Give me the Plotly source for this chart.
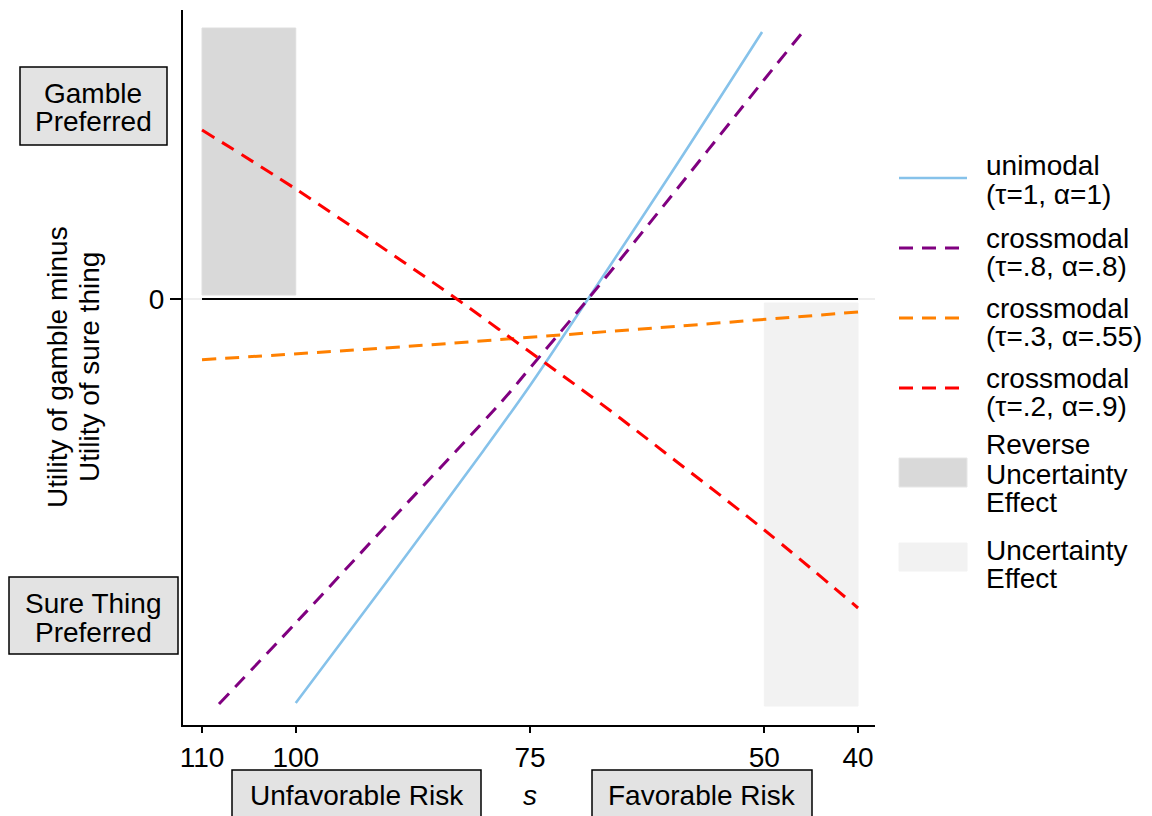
import plotly.graph_objects as go

# ---------------- data ----------------
s_ticks = [110, 100, 75, 50, 40]

s_unimodal = [100, 90, 80, 75, 70, 60, 50.24]
u_unimodal = [-4.04, -2.79, -1.52, -0.865, -0.167, 1.25, 2.67]

s_cross_8 = [108.19, 100, 90, 77.88, 75, 68.81, 60, 50, 45.55]
u_cross_8 = [-4.05, -3.24, -2.23, -1.01, -0.69, 0.0, 1.02, 2.195, 2.71]

s_cross_3 = [110, 90.47, 75, 58.99, 40]
u_cross_3 = [-0.607, -0.49, -0.383, -0.27, -0.13]

s_cross_2 = [110, 100, 90, 82.82, 75, 67.53, 60, 50, 40]
u_cross_2 = [1.69, 1.10, 0.465, 0.0, -0.53, -1.04, -1.58, -2.31, -3.09]

s_zero = [110, 40]
u_zero = [0, 0]

reverse_region_s = [110, 100]
reverse_region_u = [0.04, 2.71]
uncertainty_region_s = [50, 40]
uncertainty_region_u = [-4.07, -0.04]

legend_labels = [
    ["unimodal", "(τ=1, α=1)"],
    ["crossmodal", "(τ=.8, α=.8)"],
    ["crossmodal", "(τ=.3, α=.55)"],
    ["crossmodal", "(τ=.2, α=.9)"],
    ["Reverse", "Uncertainty", "Effect"],
    ["Uncertainty", "Effect"],
]

# ---------------- styling ----------------
FONT = "Liberation Sans, Arial, Helvetica, sans-serif"
FS = 28
C_BLUE = "#86c2ea"
C_PURPLE = "#800080"
C_ORANGE = "#ff8000"
C_RED = "#ff0000"
C_REV = "#d9d9d9"
C_UNC = "#f2f2f2"
DASH = "14px,9px"

W, H = 1152, 816
OFF = 8  # page body margin of the html page
# plot area in screen pixels
PX0, PX1, PY0, PY1 = 183, 875, 10, 725
PW, PH = PX1 - PX0, PY1 - PY0
L, T = PX0 - OFF, PY0 - OFF
R, B = W - (PX1 - OFF), H - (PY1 - OFF)


def px_x(px):
    return (px - PX0) / PW


def px_y(py):
    return (PY1 - py) / PH


def rect_xy(xs, ys):
    return ([xs[0], xs[1], xs[1], xs[0], xs[0]],
            [ys[0], ys[0], ys[1], ys[1], ys[0]])


fig = go.Figure()

rx, ry = rect_xy(reverse_region_s, reverse_region_u)
fig.add_trace(go.Scatter(x=rx, y=ry, fill="toself", fillcolor=C_REV, mode="lines",
                         line=dict(color="#dedede", width=1), name="Reverse Uncertainty Effect",
                         showlegend=False, hoverinfo="skip"))
ux, uy = rect_xy(uncertainty_region_s, uncertainty_region_u)
fig.add_trace(go.Scatter(x=ux, y=uy, fill="toself", fillcolor=C_UNC, mode="lines",
                         line=dict(color="#f2f2f2", width=1), name="Uncertainty Effect",
                         showlegend=False, hoverinfo="skip"))

fig.add_trace(go.Scatter(x=s_zero, y=u_zero, mode="lines",
                         line=dict(color="black", width=2.2), showlegend=False, hoverinfo="skip"))

series = [
    (s_unimodal, u_unimodal, C_BLUE, "solid", 2.6),
    (s_cross_8, u_cross_8, C_PURPLE, DASH, 3),
    (s_cross_3, u_cross_3, C_ORANGE, DASH, 3),
    (s_cross_2, u_cross_2, C_RED, DASH, 3),
]
for (xs, ys, col, dash, w), lab in zip(series, legend_labels):
    fig.add_trace(go.Scatter(x=xs, y=ys, mode="lines", line=dict(color=col, dash=dash, width=w),
                             line_shape="spline", name=" ".join(lab), showlegend=False))

shapes = []
annotations = []


def text(x_px, y_px, s, xanchor="center", italic=False, angle=0):
    annotations.append(dict(
        x=px_x(x_px), y=px_y(y_px), xref="paper", yref="paper", text=s, showarrow=False,
        xanchor=xanchor, yanchor="middle", textangle=angle,
        font=dict(family=FONT, size=FS, color="black",
                  style="italic" if italic else "normal")))


def box(x0, x1, y0, y1):
    shapes.append(dict(type="rect", xref="paper", yref="paper",
                       x0=px_x(x0), x1=px_x(x1), y0=px_y(y1), y1=px_y(y0),
                       fillcolor="#e3e3e3", line=dict(color="black", width=1.5), layer="above"))


# left-side boxes
box(20, 167, 67, 145)
text(93.5, 93, "Gamble")
text(93.5, 122, "Preferred")
box(9, 178, 577, 654)
text(93.5, 603, "Sure Thing")
text(93.5, 632, "Preferred")

# y title (two lines)
text(57, 367, "Utility of gamble minus", angle=-90)
text(89, 367, "Utility of sure thing", angle=-90)

# bottom boxes
box(232, 481, 770, 840)
text(356.5, 795, "Unfavorable Risk")
text(530, 795, "s", italic=True)
box(592, 812, 770, 840)
text(702, 795, "Favorable Risk")

# manual legend
sym_x0, sym_x1, txt_x = 899, 967, 984
line_rows = [178, 248, 318, 388]
text_rows = [[166, 194], [238, 266], [308, 336], [378, 406], [445, 474, 502], [550, 578]]
for (xs, ys, col, dash, w), yy in zip(series, line_rows):
    shapes.append(dict(type="line", xref="paper", yref="paper",
                       x0=px_x(sym_x0), x1=px_x(sym_x1), y0=px_y(yy), y1=px_y(yy),
                       line=dict(color=col, width=w, dash=dash)))
for (y0, y1), col in zip([(458, 487), (543, 571)], [C_REV, C_UNC]):
    shapes.append(dict(type="rect", xref="paper", yref="paper",
                       x0=px_x(sym_x0), x1=px_x(sym_x1), y0=px_y(y1), y1=px_y(y0),
                       fillcolor=col, line=dict(color="#e6e6e6" if col == C_REV else "#f2f2f2", width=1)))
for lab, rows in zip(legend_labels, text_rows):
    for s, yy in zip(lab, rows):
        text(txt_x, yy, s, xanchor="left")

fig.update_layout(
    width=W, height=H,
    margin=dict(l=L, r=R, t=T, b=B, autoexpand=False),
    plot_bgcolor="white", paper_bgcolor="white",
    font=dict(family=FONT, size=FS, color="black"),
    showlegend=False,
    shapes=shapes, annotations=annotations,
    xaxis=dict(range=[112.03, 38.19], tickvals=s_ticks, ticktext=[str(v) for v in s_ticks],
               ticks="outside", ticklen=6, tickwidth=1.5, tickcolor="black",
               showline=True, linecolor="black", linewidth=2, showgrid=False, zeroline=False,
               tickfont=dict(family=FONT, size=FS)),
    yaxis=dict(range=[-4.26, 2.89], tickvals=[0], ticktext=["0"],
               ticks="outside", ticklen=11, tickwidth=1.5, tickcolor="black",
               showline=True, linecolor="black", linewidth=2,
               showgrid=True, gridcolor="#eeeeee", gridwidth=2, zeroline=False,
               tickfont=dict(family=FONT, size=FS)),
)

fig.write_html("out.html")
